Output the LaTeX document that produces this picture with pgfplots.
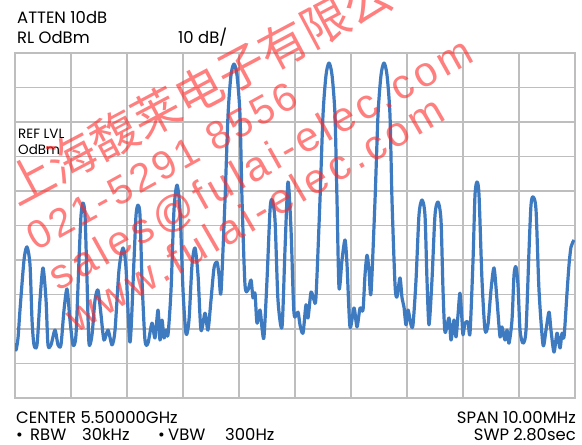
\documentclass[border=0pt]{standalone}
\usepackage{pgfplots}
\pgfplotsset{compat=1.18}
\usepackage{fontspec}
\setmainfont{Poppins}
\newfontfamily\cjk{Noto Sans CJK SC}
\newfontfamily\wm[LetterSpace=10]{Liberation Sans}
\newfontfamily\wmb[LetterSpace=8]{Liberation Sans}
\definecolor{traceblue}{RGB}{62,122,192}
\definecolor{gridgray}{RGB}{190,190,190}
\definecolor{wmred}{RGB}{255,40,40}
\pgfplotstableread{
f db
-5.000 -84.1
-4.982 -86.1
-4.946 -82.6
-4.911 -74.5
-4.839 -60.0
-4.786 -56.2
-4.732 -61.4
-4.696 -77.4
-4.661 -84.6
-4.607 -84.6
-4.554 -71.6
-4.500 -62.3
-4.446 -71.6
-4.411 -84.6
-4.357 -84.6
-4.286 -80.3
-4.232 -84.6
-4.179 -84.6
-4.125 -74.5
-4.071 -68.4
-4.018 -77.4
-3.964 -84.6
-3.911 -81.7
-3.857 -60.0
-3.821 -47.0
-3.786 -43.5
-3.750 -47.0
-3.714 -65.8
-3.679 -84.1
-3.625 -81.7
-3.571 -71.6
-3.518 -68.7
-3.464 -75.9
-3.411 -83.2
-3.339 -80.3
-3.268 -84.6
-3.214 -80.3
-3.143 -62.9
-3.071 -56.5
-3.018 -62.3
-2.946 -83.8
-2.875 -60.0
-2.839 -47.0
-2.804 -44.1
-2.768 -47.0
-2.732 -65.8
-2.679 -83.2
-2.625 -84.1
-2.554 -78.3
-2.500 -82.6
-2.446 -74.5
-2.411 -83.2
-2.375 -77.4
-2.339 -82.6
-2.304 -80.3
-2.268 -81.7
-2.214 -68.7
-2.161 -45.5
-2.107 -38.3
-2.054 -45.5
-2.000 -68.7
-1.946 -81.4
-1.893 -77.4
-1.839 -61.4
-1.786 -56.5
-1.732 -64.3
-1.679 -80.3
-1.607 -75.4
-1.554 -80.3
-1.500 -71.6
-1.446 -62.3
-1.393 -60.6
-1.357 -64.3
-1.321 -69.3
-1.250 -42.6
-1.196 -18.0
-1.143 -6.4
-1.089 -3.2
-1.036 -6.4
-0.982 -18.0
-0.946 -42.6
-0.893 -67.2
-0.839 -68.7
-0.786 -65.8
-0.750 -71.0
-0.714 -69.6
-0.679 -78.3
-0.625 -74.5
-0.589 -79.7
-0.554 -82.3
-0.500 -65.8
-0.446 -45.5
-0.411 -42.6
-0.357 -48.4
-0.304 -71.6
-0.232 -79.4
-0.179 -57.1
-0.125 -37.4
-0.071 -51.3
-0.018 -75.4
0.054 -75.1
0.089 -78.8
0.143 -81.2
0.196 -73.0
0.232 -76.8
0.286 -69.3
0.339 -71.6
0.375 -70.7
0.446 -42.6
0.500 -18.0
0.554 -6.4
0.607 -2.9
0.661 -6.4
0.714 -18.0
0.750 -42.6
0.786 -68.1
0.839 -60.0
0.893 -54.2
0.929 -61.4
0.982 -79.4
1.054 -73.9
1.107 -79.4
1.161 -73.9
1.214 -74.5
1.250 -64.3
1.286 -58.6
1.321 -62.9
1.357 -69.6
1.429 -42.6
1.482 -18.0
1.536 -6.4
1.589 -2.9
1.643 -6.4
1.696 -18.0
1.732 -42.6
1.786 -67.2
1.821 -70.7
1.875 -65.2
1.911 -71.0
1.946 -73.6
1.982 -78.8
2.018 -74.5
2.071 -78.8
2.107 -78.8
2.161 -65.8
2.214 -47.0
2.268 -42.6
2.321 -47.0
2.357 -65.8
2.393 -78.8
2.446 -65.8
2.500 -47.0
2.554 -43.2
2.607 -48.4
2.643 -68.7
2.679 -80.9
2.750 -76.8
2.786 -83.2
2.839 -77.4
2.875 -82.3
2.911 -75.9
2.946 -69.6
2.982 -77.4
3.000 -81.7
3.036 -78.3
3.089 -78.0
3.125 -81.2
3.179 -60.0
3.214 -41.2
3.250 -37.4
3.286 -41.2
3.339 -65.8
3.393 -80.3
3.446 -78.8
3.500 -68.7
3.554 -62.3
3.607 -71.6
3.661 -82.3
3.696 -79.4
3.750 -83.2
3.786 -80.3
3.821 -84.1
3.875 -77.4
3.911 -64.3
3.946 -62.0
3.982 -67.2
4.018 -80.3
4.071 -84.1
4.125 -80.3
4.179 -57.1
4.214 -44.1
4.250 -41.7
4.304 -45.5
4.357 -68.7
4.429 -84.6
4.482 -80.3
4.536 -75.1
4.571 -80.3
4.625 -86.7
4.679 -81.2
4.732 -85.5
4.768 -81.2
4.804 -82.3
4.857 -69.6
4.893 -61.4
4.929 -56.2
4.982 -54.2
}\trace
\begin{document}
\begin{tikzpicture}
\useasboundingbox (0,0) rectangle (582bp,-445bp);
\begin{axis}[
  at={(15bp,-398bp)}, anchor=south west,
  scale only axis, width=560bp, height=345bp,
  xmin=-5, xmax=5, ymin=-100, ymax=0,
  xtick={-5,-4,...,5}, ytick={-100,-90,...,0},
  xticklabels={}, yticklabels={},
  major tick length=0pt,
  grid=major,
  grid style={draw=gridgray, line width=1.3bp},
  axis line style={draw=gridgray, line width=1.6bp},
  clip=true,
]
\addplot[traceblue, line width=3.2bp, smooth, tension=0.45, line join=round] table[x=f, y=db] {\trace};
\end{axis}
\begin{scope}[every node/.style={inner sep=0pt, font=\fontsize{16.5}{19}\selectfont}]
\node[anchor=base west] at (17bp,-23bp) {ATTEN 10dB};
\node[anchor=base west] at (17bp,-43bp) {RL OdBm};
\node[anchor=base west] at (178bp,-43bp) {10 dB/};
\node[anchor=base west, font=\fontsize{13.5}{15}\selectfont] at (18bp,-138bp) {REF LVL};
\node[anchor=base west, font=\fontsize{13.5}{15}\selectfont] at (18bp,-154bp) {OdBm};
\node[anchor=base west] at (16bp,-423bp) {CENTER 5.50000GHz};
\node[anchor=base west] at (16bp,-440bp) {\textbullet};
\node[anchor=base west] at (30bp,-440bp) {RBW};
\node[anchor=base west] at (82bp,-440bp) {30kHz};
\node[anchor=base west] at (158bp,-440bp) {\textbullet};
\node[anchor=base west] at (168bp,-440bp) {VBW};
\node[anchor=base west] at (225bp,-440bp) {300Hz};
\node[anchor=base east] at (576bp,-423bp) {SPAN 10.00MHz};
\node[anchor=base east] at (576bp,-440bp) {SWP 2.80sec};
\end{scope}
\begin{scope}[every node/.style={inner sep=0pt, anchor=base west, text=wmred, opacity=0.6}]
\node[rotate=28, font=\cjk\fontsize{48}{48}\selectfont] at (17bp,-207bp) {上海馥莱电子有限公司};
\node[rotate=29, font=\wmb\fontsize{40}{40}\selectfont] at (36bp,-252bp) {021-5291 8556};
\node[rotate=29, font=\wm\fontsize{42}{42}\selectfont] at (58bp,-292bp) {sales@fulai-elec.com};
\node[rotate=30, font=\wm\fontsize{42}{42}\selectfont] at (76bp,-334bp) {www.fulai-elec.com};
\end{scope}
\end{tikzpicture}
\end{document}
